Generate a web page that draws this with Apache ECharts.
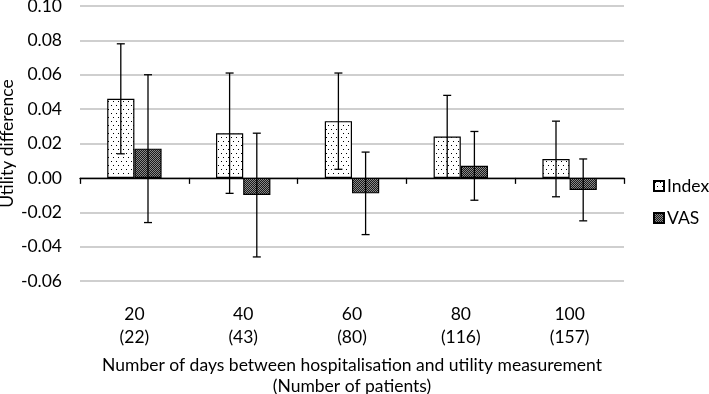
<!DOCTYPE html>
<html>
<head>
<meta charset="utf-8">
<script src="https://cdn.jsdelivr.net/npm/echarts@6/dist/echarts.min.js"></script>
<style>
html,body{margin:0;padding:0;background:#fff;}
#chart{width:709px;height:394px;}
</style>
</head>
<body>
<div id="chart"></div>
<script>
var days = ['20', '40', '60', '80', '100'];
var patients = ['22', '43', '80', '116', '157'];
var indexValues = [0.046, 0.026, 0.033, 0.024, 0.011];
var indexLow = [0.014, -0.009, 0.005, 0.000, -0.011];
var indexHigh = [0.078, 0.061, 0.061, 0.048, 0.033];
var vasValues = [0.017, -0.010, -0.009, 0.007, -0.007];
var vasLow = [-0.026, -0.046, -0.033, -0.013, -0.025];
var vasHigh = [0.060, 0.026, 0.015, 0.027, 0.011];
var yTicks = [-0.06, -0.04, -0.02, 0.00, 0.02, 0.04, 0.06, 0.08, 0.10];

var categories = days.map(function (d, i) { return d + '\n(' + patients[i] + ')'; });

function makeDots() {
  var c = document.createElement('canvas');
  c.width = 5; c.height = 8;
  var ctx = c.getContext('2d');
  ctx.fillStyle = '#ffffff'; ctx.fillRect(0, 0, 5, 8);
  ctx.fillStyle = '#000000';
  ctx.fillRect(1, 1, 1, 1);
  ctx.fillRect(3, 5, 1, 1);
  return c;
}
function makeCheck() {
  var c = document.createElement('canvas');
  c.width = 2; c.height = 2;
  var ctx = c.getContext('2d');
  ctx.fillStyle = '#1a1a1a'; ctx.fillRect(0, 0, 2, 2);
  ctx.fillStyle = '#8a8a8a';
  ctx.fillRect(0, 0, 1, 1);
  ctx.fillRect(1, 1, 1, 1);
  return c;
}
var dotPattern = { image: makeDots(), repeat: 'repeat' };
var checkPattern = { image: makeCheck(), repeat: 'repeat' };

var errData = [];
for (var i = 0; i < days.length; i++) {
  errData.push([i, indexLow[i], indexHigh[i], -0.125]);
  errData.push([i, vasLow[i], vasHigh[i], 0.125]);
}

var font = 'Lato, "Liberation Sans", sans-serif';
var fs = 17.5;
var chart = echarts.init(document.getElementById('chart'), null, { renderer: 'canvas' });
chart.setOption({
  animation: false,
  textStyle: { fontFamily: font },
  grid: { left: 80, right: 85, top: 6, bottom: 113, containLabel: false, outerBoundsMode: 'none' },
  legend: {
    data: ['Index', 'VAS'],
    orient: 'vertical',
    left: 648, top: 172,
    itemWidth: 10, itemHeight: 10, itemGap: 14,
    icon: 'rect',
    textStyle: { fontFamily: font, fontSize: fs, color: '#000', padding: [0, 0, 0, -2] }
  },
  xAxis: [{
    type: 'category',
    data: categories,
    position: 'bottom',
    axisLine: { show: false, onZero: false },
    axisTick: { show: false },
    axisLabel: { fontSize: fs, color: '#000', lineHeight: 23, margin: 22, fontFamily: font },
    name: 'Number of days between hospitalisation and utility measurement\n(Number of patients)',
    nameLocation: 'middle',
    nameGap: 74,
    nameMoveOverlap: false,
    nameTextStyle: { fontSize: fs, color: '#000', lineHeight: 21, fontFamily: font }
  }, {
    type: 'category',
    data: categories,
    position: 'bottom',
    axisLine: { show: true, onZero: true, lineStyle: { color: '#000', width: 1.3 } },
    axisTick: { show: true, inside: false, length: 6, alignWithLabel: false, lineStyle: { color: '#000', width: 1.3 } },
    axisLabel: { show: false },
    splitLine: { show: false }
  }],
  yAxis: {
    type: 'value',
    min: -0.06, max: 0.10, interval: 0.02,
    axisLine: { show: false },
    axisTick: { show: false },
    axisLabel: {
      fontSize: fs, color: '#000', margin: 18, fontFamily: font,
      formatter: function (v) {
        var best = yTicks.reduce(function (a, b) { return Math.abs(b - v) < Math.abs(a - v) ? b : a; });
        return best.toFixed(2);
      }
    },
    splitLine: { lineStyle: { color: '#bfbfbf', width: 1.5 } },
    name: 'Utility difference',
    nameLocation: 'middle',
    nameGap: 64,
    nameMoveOverlap: false,
    nameTextStyle: { fontSize: fs, color: '#000', fontFamily: font }
  },
  series: [{
    name: 'Index',
    type: 'bar',
    xAxisIndex: 0,
    data: indexValues,
    barGap: '0%',
    barCategoryGap: '50%',
    itemStyle: { color: dotPattern, borderColor: '#000', borderWidth: 1.2 }
  }, {
    name: 'VAS',
    type: 'bar',
    xAxisIndex: 0,
    data: vasValues,
    barGap: '0%',
    barCategoryGap: '50%',
    itemStyle: { color: checkPattern, borderColor: '#000', borderWidth: 1.2 }
  }, {
    name: 'err',
    type: 'custom',
    xAxisIndex: 0,
    z: 10,
    data: errData,
    renderItem: function (params, api) {
      var c = api.value(0);
      var band = api.size([1, 0])[0];
      var off = api.value(3) * band;
      var lo = api.coord([c, api.value(1)]);
      var hi = api.coord([c, api.value(2)]);
      var x = lo[0] + off;
      var cap = 4;
      var st = { stroke: '#000', lineWidth: 1.3 };
      return {
        type: 'group',
        children: [
          { type: 'line', shape: { x1: x, y1: lo[1], x2: x, y2: hi[1] }, style: st },
          { type: 'line', shape: { x1: x - cap, y1: lo[1], x2: x + cap, y2: lo[1] }, style: st },
          { type: 'line', shape: { x1: x - cap, y1: hi[1], x2: x + cap, y2: hi[1] }, style: st }
        ]
      };
    }
  }]
});
</script>
</body>
</html>
